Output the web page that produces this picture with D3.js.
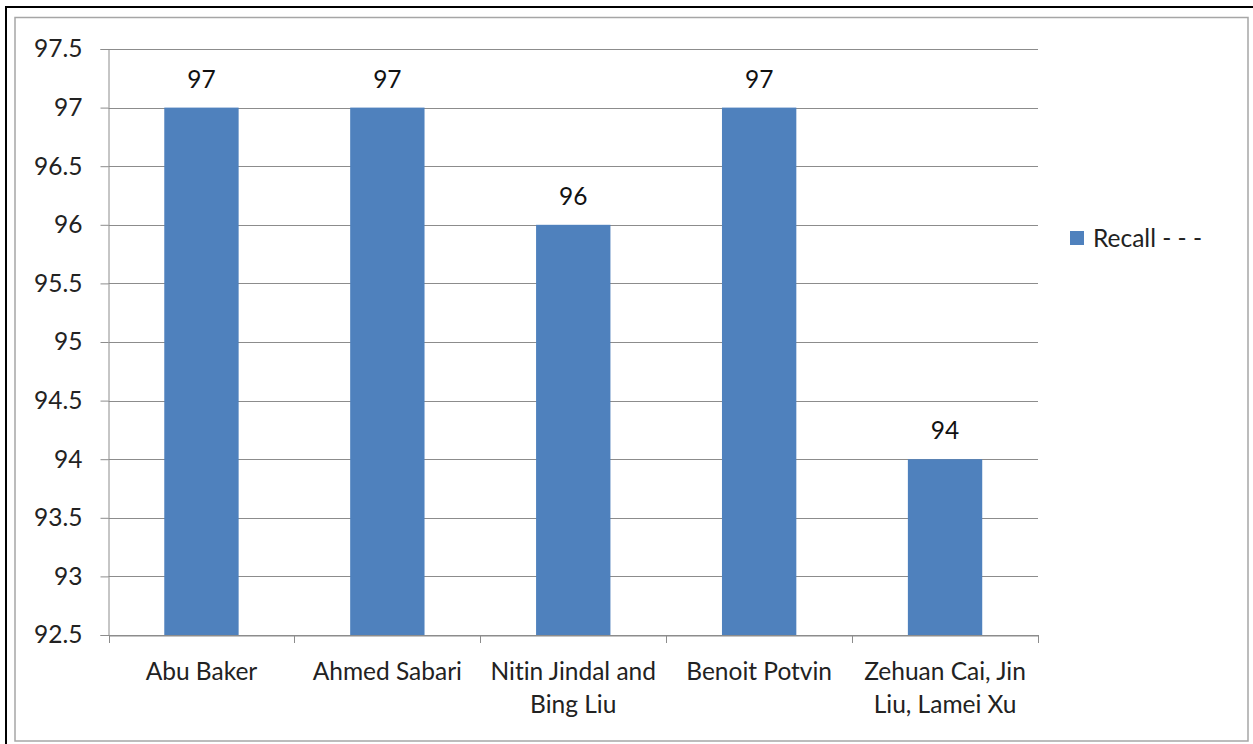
<!DOCTYPE html>
<html>
<head>
<meta charset="utf-8">
<script src="https://cdn.jsdelivr.net/npm/d3@7"></script>
<style>
  html, body { margin: 0; padding: 0; background: #fff; }
  svg { display: block; }
  text { font-family: Lato, "Noto Sans", sans-serif; font-variant-ligatures: none; font-feature-settings: "liga" 0, "clig" 0; }
</style>
</head>
<body>
<svg id="chart" width="1253" height="744"></svg>
<script>
// Recall per author / research group
const categories = [
  ["Abu Baker"],
  ["Ahmed Sabari"],
  ["Nitin Jindal and", "Bing Liu"],
  ["Benoit Potvin"],
  ["Zehuan Cai, Jin", "Liu, Lamei Xu"]
];
const recall = [97, 97, 96, 97, 94];
const yTicks = [92.5, 93, 93.5, 94, 94.5, 95, 95.5, 96, 96.5, 97, 97.5];
const seriesName = "Recall - - -";

const FS = 24.5;
const svg = d3.select("#chart");
const W = 1253, H = 744;

// frames
svg.append("rect").attr("x", 6).attr("y", 7).attr("width", W).attr("height", H)
  .attr("fill", "none").attr("stroke", "#000").attr("stroke-width", 2);
svg.append("rect").attr("x", 15).attr("y", 17.5).attr("width", 1233).attr("height", 723.5)
  .attr("fill", "none").attr("stroke", "#a6a6a6").attr("stroke-width", 1.5);

const plot = { left: 108.5, right: 1038, top: 49, bottom: 635 };

const x = d3.scaleBand()
  .domain(d3.range(categories.length))
  .range([plot.left, plot.right]);

const y = d3.scaleLinear()
  .domain([92.5, 97.5])
  .range([plot.bottom, plot.top]);

const g = svg.append("g");

// horizontal gridlines
g.selectAll("line.grid").data(yTicks).join("line")
  .attr("class", "grid")
  .attr("x1", plot.left).attr("x2", plot.right)
  .attr("y1", d => Math.round(y(d)) + 0.5).attr("y2", d => Math.round(y(d)) + 0.5)
  .attr("stroke", "#8c8c8c").attr("stroke-width", 1);

// y axis
const yAxis = g.append("g")
  .attr("transform", `translate(${plot.left},0)`)
  .call(d3.axisLeft(y).tickValues(yTicks).tickSize(8).tickPadding(18)
    .tickFormat(d => String(d)));
yAxis.select(".domain").attr("stroke", "#8c8c8c");
yAxis.selectAll(".tick line").attr("stroke", "#8c8c8c");
yAxis.selectAll(".tick text").attr("font-size", FS).attr("fill", "#222")
  .style("font-family", "Lato, 'Noto Sans', sans-serif");

// bars
const barW = x.bandwidth() * 0.4;
g.selectAll("rect.bar").data(recall).join("rect")
  .attr("class", "bar")
  .attr("x", (d, i) => x(i) + (x.bandwidth() - barW) / 2)
  .attr("width", barW)
  .attr("y", d => y(d))
  .attr("height", d => y(92.5) - y(d))
  .attr("fill", "#4f81bd");

// x axis
const xAxis = g.append("g")
  .attr("transform", `translate(0,${plot.bottom + 0.5})`)
  .call(d3.axisBottom(x).tickSize(0).tickFormat(""));
xAxis.select(".domain").attr("stroke", "#8c8c8c");
xAxis.selectAll(".tick").remove();
const bounds = d3.range(categories.length + 1).map(i => plot.left + i * x.bandwidth());
g.selectAll("line.xtick").data(bounds).join("line")
  .attr("class", "xtick")
  .attr("x1", d => Math.round(d) + 0.5).attr("x2", d => Math.round(d) + 0.5)
  .attr("y1", plot.bottom).attr("y2", plot.bottom + 8)
  .attr("stroke", "#8c8c8c");

// category labels
g.selectAll("text.cat").data(categories).join("text")
  .attr("class", "cat")
  .attr("text-anchor", "middle")
  .attr("font-size", FS).attr("fill", "#222")
  .attr("x", (d, i) => x(i) + x.bandwidth() / 2)
  .attr("y", 680)
  .selectAll("tspan").data(d => d).join("tspan")
  .attr("x", function () { return d3.select(this.parentNode).attr("x"); })
  .attr("dy", (d, i) => i === 0 ? 0 : 33)
  .text(d => d);

// value labels
g.selectAll("text.val").data(recall).join("text")
  .attr("class", "val")
  .attr("text-anchor", "middle")
  .attr("font-size", FS).attr("fill", "#111")
  .attr("x", (d, i) => x(i) + x.bandwidth() / 2)
  .attr("y", d => y(d) - 20)
  .text(d => d);

// legend
const lg = svg.append("g").attr("transform", "translate(1070,231)");
lg.append("rect").attr("width", 14).attr("height", 14).attr("fill", "#4f81bd");
lg.append("text").attr("x", 23).attr("y", 7).attr("dy", "0.36em")
  .attr("font-size", FS).attr("fill", "#222").text(seriesName);
</script>
</body>
</html>
